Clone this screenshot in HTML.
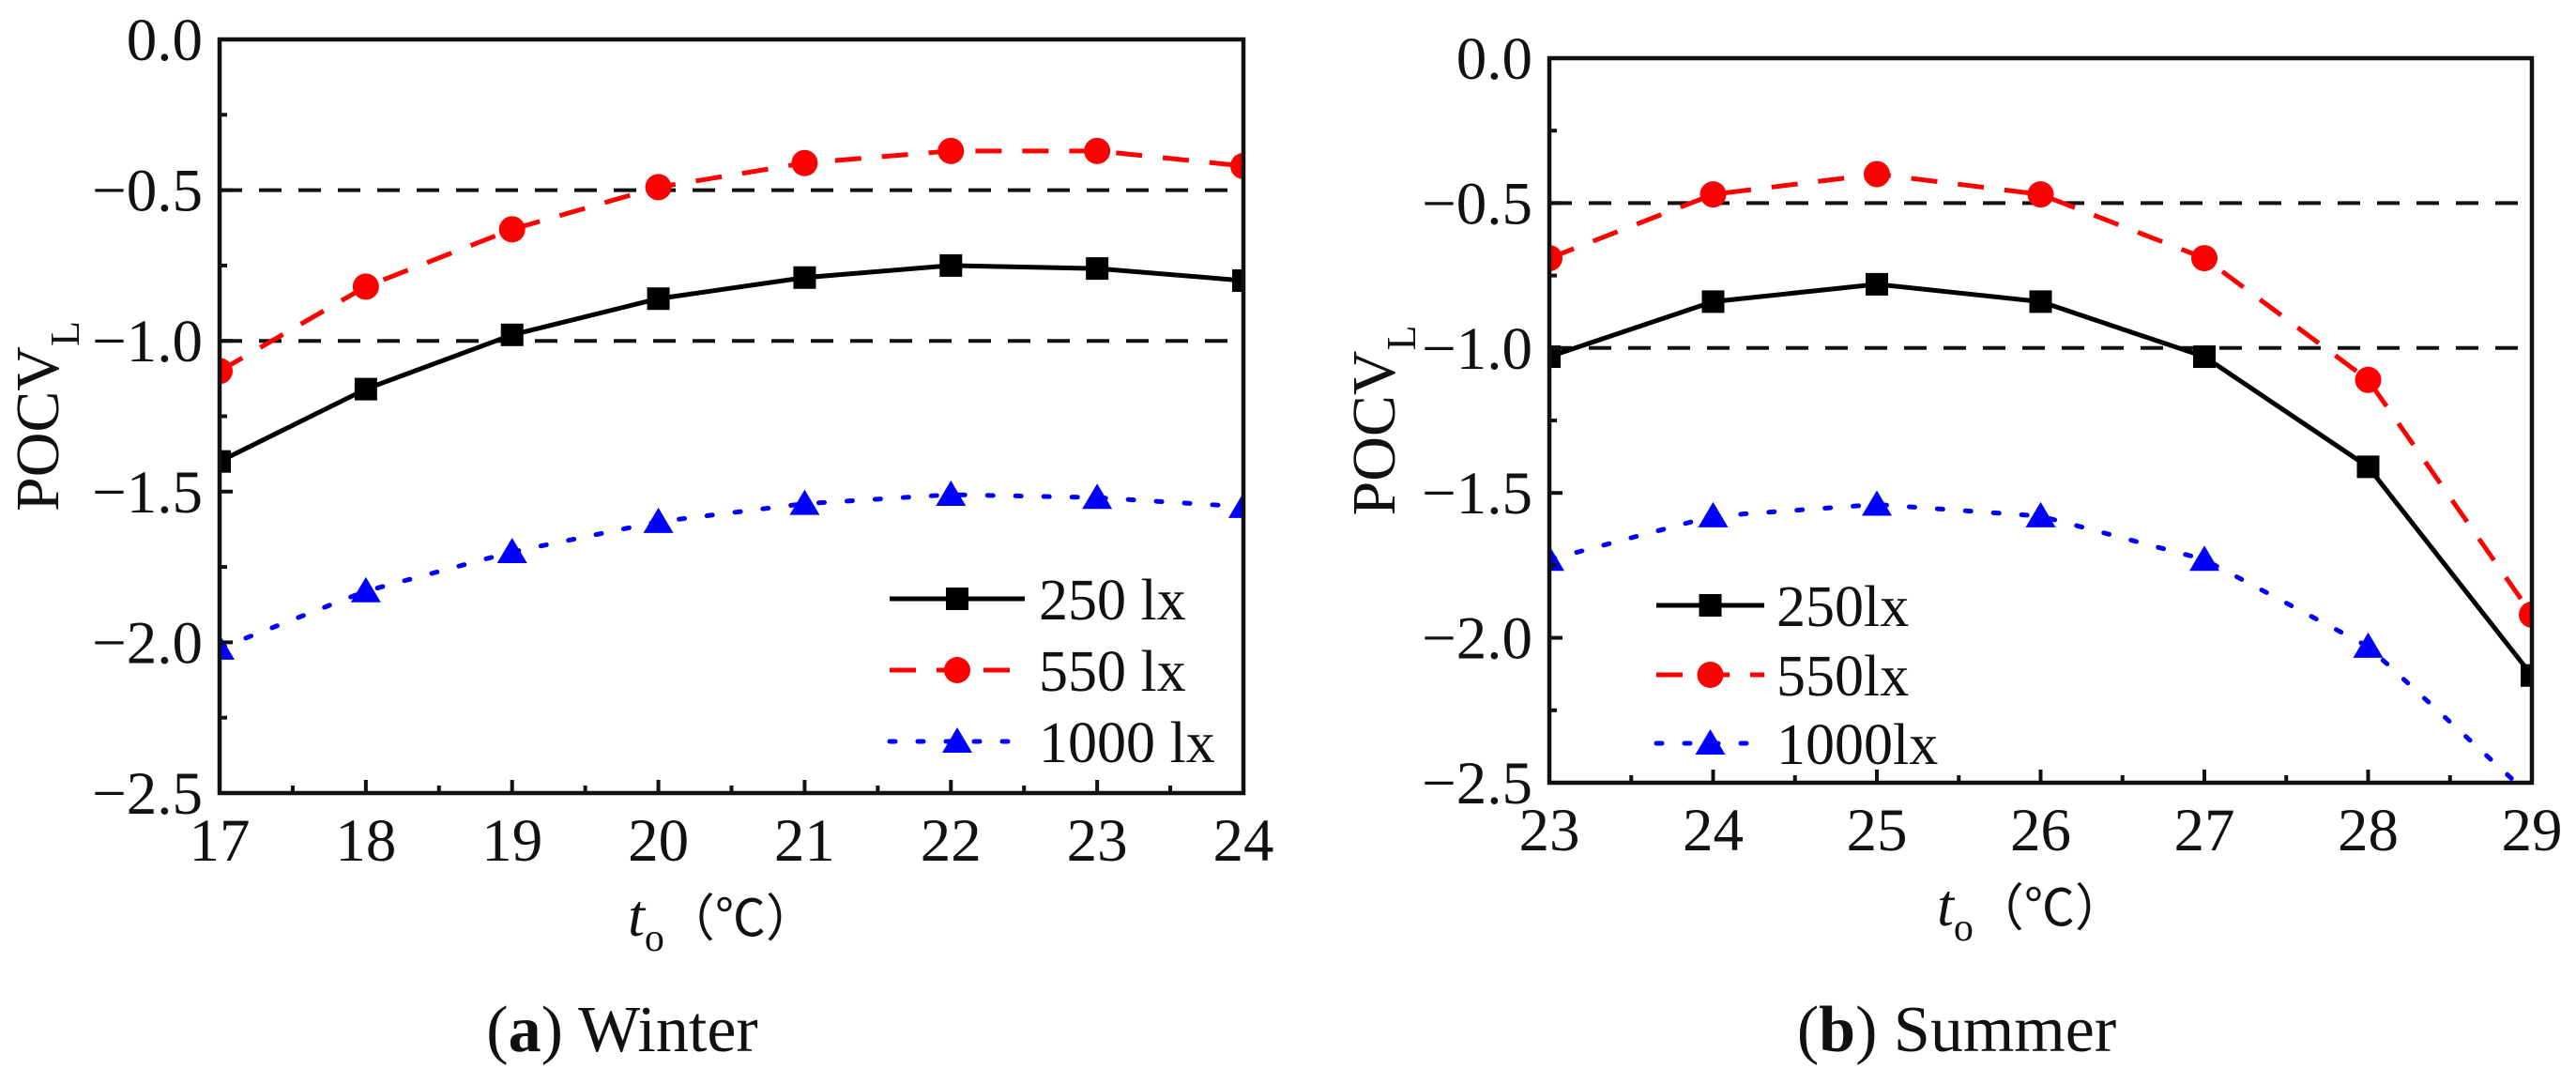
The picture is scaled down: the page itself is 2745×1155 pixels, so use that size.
<!DOCTYPE html>
<html><head><meta charset="utf-8"><style>
html,body{margin:0;padding:0;background:#fff;}
svg{display:block;font-family:"Liberation Serif",serif;}
</style></head><body>
<svg id="fig" width="2745" height="1155" viewBox="0 0 2745 1155" xmlns="http://www.w3.org/2000/svg"></svg>
<script>
// Winter panel data
const winterX = [17,18,19,20,21,22,23,24];
const winter250 = [-1.40,-1.16,-0.98,-0.86,-0.79,-0.75,-0.76,-0.80];
const winter550 = [-1.10,-0.82,-0.63,-0.49,-0.41,-0.37,-0.37,-0.42];
const winter1000 = [-2.02,-1.83,-1.70,-1.60,-1.54,-1.51,-1.52,-1.55];
const winterXTicks = [17,18,19,20,21,22,23,24];
// Summer panel data
const summerX = [23,24,25,26,27,28,29];
const summer250 = [-1.03,-0.84,-0.78,-0.84,-1.03,-1.41,-2.13];
const summer550 = [-0.69,-0.47,-0.40,-0.47,-0.69,-1.11,-1.92];
const summer1000 = [-1.73,-1.58,-1.54,-1.58,-1.73,-2.03,-2.55];
const summerXTicks = [23,24,25,26,27,28,29];
const yTicks = [0,-0.5,-1.0,-1.5,-2.0,-2.5];
const yTickLabels = ["0.0","\u22120.5","\u22121.0","\u22121.5","\u22122.0","\u22122.5"];
const refLines = [-0.5,-1.0];
const legendWinter = ["250 lx","550 lx","1000 lx"];
const legendSummer = ["250lx","550lx","1000lx"];

const NS="http://www.w3.org/2000/svg";
const svg=document.getElementById('fig');
function mk(tag,attrs,parent){const e=document.createElementNS(NS,tag);for(const k in attrs)e.setAttribute(k,attrs[k]);(parent||svg).appendChild(e);return e;}

function panel(id,box,xdom,xs,series,xticks,legend,leg,caption){
  const g=mk('g',{});
  
  
  const sx=v=>box.l+(v-xdom[0])/(xdom[1]-xdom[0])*(box.r-box.l);
  const sy=v=>box.t+(0-v)/2.5*(box.b-box.t);
  const cp=mk('clipPath',{id:id+'-clip'},g);
  mk('rect',{x:box.l,y:box.t,width:box.r-box.l,height:box.b-box.t},cp);
  refLines.forEach(v=>{
    const l=mk('line',{x1:box.l,x2:box.r,y1:sy(v),y2:sy(v),stroke:'#111','stroke-width':4,'stroke-dasharray':'24 18'},g);
    
    
  });
  const dg=mk('g',{'clip-path':'url(#'+id+'-clip)'},g);
  series.forEach(s=>{
    const pts=s.vals.map((v,i)=>sx(xs[i])+','+sy(v)).join(' ');
    const pl=mk('polyline',{points:pts,fill:'none',stroke:s.color,'stroke-width':5,'stroke-dasharray':s.dash,'stroke-linecap':s.cap},dg);
    
    
    s.vals.forEach((v,i)=>{
      const m=marker(s.shape,sx(xs[i]),sy(v),s.color,dg);
      
      
    });
  });
  const fr=mk('rect',{x:box.l,y:box.t,width:box.r-box.l,height:box.b-box.t,fill:'none',stroke:'#111','stroke-width':4.5},g);
  
  
  yTicks.forEach((v,i)=>{
    mk('line',{x1:box.l,x2:box.l+14,y1:sy(v),y2:sy(v),stroke:'#111','stroke-width':4},g);
    if(i<5){const mv=v-0.25;mk('line',{x1:box.l,x2:box.l+8,y1:sy(mv),y2:sy(mv),stroke:'#111','stroke-width':4},g);}
    const t=mk('text',{x:box.l-18,y:sy(v)+22,'text-anchor':'end','font-size':65,fill:'#111'},g);
    t.textContent=yTickLabels[i];
    
    
  });
  xticks.forEach((v,i)=>{
    mk('line',{x1:sx(v),x2:sx(v),y1:box.b,y2:box.b-14,stroke:'#111','stroke-width':4},g);
    if(i<xticks.length-1){const mv=v+0.5;mk('line',{x1:sx(mv),x2:sx(mv),y1:box.b,y2:box.b-8,stroke:'#111','stroke-width':4},g);}
    const t=mk('text',{x:sx(v),y:box.b+72,'text-anchor':'middle','font-size':65,fill:'#111'},g);
    t.textContent=v;
    
    
  });
  const yt=mk('text',{transform:'translate('+(box.ylabX)+','+((box.t+box.b)/2)+') rotate(-90)','text-anchor':'middle','font-size':66,fill:'#111'},g);
  yt.innerHTML='POCV<tspan font-size="44" dy="22">L</tspan>';
  
  
  const xt=mk('text',{x:(box.l+box.r)/2-10,y:box.b+152,'text-anchor':'middle','font-size':64,fill:'#111'},g);
  xt.innerHTML='<tspan font-style="italic">t</tspan><tspan font-size="42" dy="16">o</tspan><tspan dy="-16" font-family="Noto Sans CJK SC, sans-serif" font-size="54">（℃）</tspan>';
  
  
  series.forEach((s,i)=>{
    const y=leg.y[i];
    const lg=mk('g',{},g);
    
    
    mk('line',{x1:leg.x1,x2:leg.x2,y1:y,y2:y,stroke:s.color,'stroke-width':5,'stroke-dasharray':s.dash,'stroke-linecap':s.cap},lg);
    marker(s.shape,(leg.x1+leg.x2)/2,y,s.color,lg);
    const t=mk('text',{x:leg.tx,y:y+22,'font-size':62,fill:'#111'},lg);
    t.textContent=legend[i];
  });
  const c=mk('text',{x:caption.x,y:caption.y,'text-anchor':'middle','font-size':70,fill:'#111'},g);
  c.innerHTML='(<tspan font-weight="bold">'+caption.letter+'</tspan>) '+caption.text;
  
  
}
function marker(shape,x,y,color,parent){
  if(shape==='square')return mk('rect',{x:x-12,y:y-12,width:24,height:24,fill:color},parent);
  if(shape==='circle')return mk('circle',{cx:x,cy:y,r:14,fill:color},parent);
  return mk('polygon',{points:(x)+','+(y-15)+' '+(x-16)+','+(y+12)+' '+(x+16)+','+(y+12),fill:color},parent);
}
function mkSeries(a,b,c){return [
  {name:'250lx',vals:a,color:'#000',dash:'none',cap:'butt',shape:'square'},
  {name:'550lx',vals:b,color:'#ff0000',dash:'28 22',cap:'butt',shape:'circle'},
  {name:'1000lx',vals:c,color:'#0000ff',dash:'6 24',cap:'round',shape:'triangle'}];}
panel('winter',{l:234,r:1325,t:42,b:845,ylabX:62},[17,24],winterX,mkSeries(winter250,winter550,winter1000),winterXTicks,legendWinter,
  {x1:948,x2:1092,tx:1107,y:[638,714,790]},{x:663,y:1120,letter:'a',text:'Winter'});
panel('summer',{l:1651,r:2698,t:62,b:834,ylabX:1486},[23,29],summerX,mkSeries(summer250,summer550,summer1000),summerXTicks,legendSummer,
  {x1:1765,x2:1880,tx:1893,y:[645,719,792]},{x:2085,y:1120,letter:'b',text:'Summer'});
</script>
</body></html>
